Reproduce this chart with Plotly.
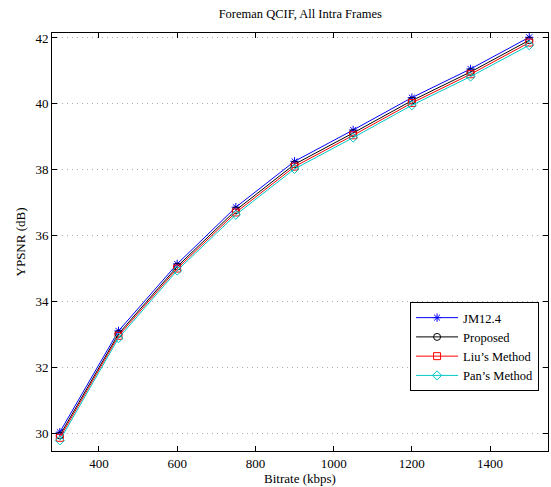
import plotly.graph_objects as go

bitrate = [300, 450, 600, 750, 900, 1050, 1200, 1350, 1500]
jm124 = [30.05, 33.12, 35.15, 36.87, 38.26, 39.21, 40.19, 41.06, 42.02]
proposed = [29.95, 33.03, 35.07, 36.78, 38.17, 39.12, 40.10, 40.97, 41.93]
liu = [29.88, 32.97, 35.01, 36.71, 38.10, 39.05, 40.03, 40.90, 41.86]
pan = [29.80, 32.90, 34.95, 36.64, 38.03, 38.98, 39.96, 40.83, 41.78]

series = [
    ("JM12.4", jm124, "#0000FF", "asterisk-open"),
    ("Proposed", proposed, "#000000", "circle-open"),
    ("Liu\u2019s Method", liu, "#FF0000", "square-open"),
    ("Pan\u2019s Method", pan, "#00C8C8", "diamond-open"),
]

fig = go.Figure()
for name, vals, col, sym in series:
    fig.add_trace(go.Scatter(
        x=bitrate, y=vals, name=name, mode="lines+markers",
        line=dict(color=col, width=1),
        marker=dict(symbol=sym, size=7, color=col, line=dict(color=col, width=1)),
    ))

font = "Liberation Serif"
tf = dict(family=font, size=13, color="black")
fig.update_layout(
    width=551, height=487,
    margin=dict(l=52, r=3, t=33, b=36),
    paper_bgcolor="white", plot_bgcolor="white",
    font=tf,
    title=dict(text="Foreman QCIF, All Intra Frames", x=0.545, xanchor="center",
               y=0.973, yanchor="middle", font=dict(family=font, size=12.5, color="black")),
    showlegend=True,
    legend=dict(x=0.982, xanchor="right", y=0.1435, yanchor="bottom",
                bgcolor="white", bordercolor="black", borderwidth=1,
                font=dict(family=font, size=12.5, color="black"), tracegroupgap=0, itemwidth=42),
)
fig.update_xaxes(
    range=[280, 1548], tickvals=[400, 600, 800, 1000, 1200, 1400],
    ticks="inside", ticklen=5, tickcolor="black", mirror="ticks",
    showline=True, linecolor="black", linewidth=1, showgrid=False, zeroline=False,
    tickfont=tf,
    title=dict(text="Bitrate (kbps)", standoff=2, font=tf),
)
fig.update_yaxes(
    range=[29.48, 42.15], tickvals=[30, 32, 34, 36, 38, 40, 42],
    ticks="inside", ticklen=5, tickcolor="black", mirror="ticks",
    showline=True, linecolor="black", linewidth=1,
    showgrid=True, gridcolor="#AAAAAA", griddash="1px,4px", gridwidth=1, zeroline=False,
    tickfont=tf,
    title=dict(text="YPSNR (dB)", standoff=6, font=tf),
)
fig.write_html("out.html")
